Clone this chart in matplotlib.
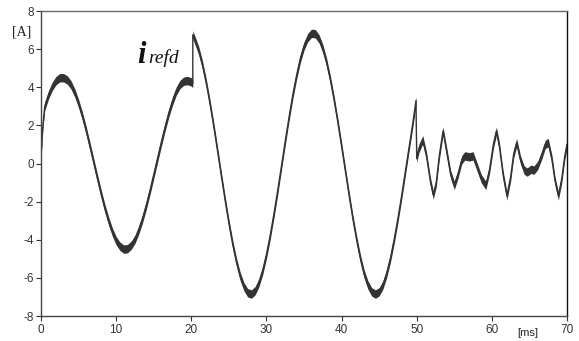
import numpy as np
import matplotlib
matplotlib.use("Agg")
import matplotlib.pyplot as plt

plt.rcParams['axes.unicode_minus'] = False

# corriente de referencia: antes del salto (0-20 ms)
t_antes = [0.0, 0.25, 0.5, 1.0, 1.5, 2.0, 2.5, 3.0, 3.5, 4.0, 4.5, 5.0, 5.5, 6.0,
           6.5, 7.0, 7.5, 8.0, 8.5, 9.0, 9.5, 10.0, 10.5, 11.0, 11.5, 12.0, 12.5,
           13.0, 13.5, 14.0, 14.5, 15.0, 15.5, 16.0, 16.5, 17.0, 17.5, 18.0, 18.5,
           19.0, 19.5, 20.0, 20.2]
i_antes = [0.4, 2.0, 3.0, 3.6, 4.05, 4.35, 4.5, 4.5, 4.38, 4.12, 3.70, 3.15, 2.50,
           1.75, 0.93, 0.08, -0.76, -1.58, -2.35, -3.02, -3.60, -4.05, -4.34, -4.49,
           -4.47, -4.29, -3.98, -3.50, -2.91, -2.21, -1.43, -0.60, 0.25, 1.09, 1.89,
           2.63, 3.27, 3.80, 4.15, 4.32, 4.35, 4.28, 4.2]

# despues del salto (20-50 ms)
t_despues = [20.2, 20.5, 21.0, 21.5, 22.0, 22.5, 23.0, 23.5, 24.0, 24.5, 25.0, 25.5,
             26.0, 26.5, 27.0, 27.5, 28.0, 28.5, 29.0, 29.5, 30.0, 30.5, 31.0, 31.5,
             32.0, 32.5, 33.0, 33.5, 34.0, 34.5, 35.0, 35.5, 36.0, 36.5, 37.0, 37.5,
             38.0, 38.5, 39.0, 39.5, 40.0, 40.5, 41.0, 41.5, 42.0, 42.5, 43.0, 43.5,
             44.0, 44.5, 45.0, 45.5, 46.0, 46.5, 47.0, 47.5, 48.0, 48.5, 49.0, 49.5,
             49.9]
i_despues = [6.75, 6.45, 5.91, 5.15, 4.21, 3.12, 1.92, 0.65, -0.65, -1.92, -3.12,
             -4.21, -5.15, -5.91, -6.46, -6.78, -6.85, -6.67, -6.25, -5.62, -4.78,
             -3.78, -2.64, -1.42, -0.13, 1.16, 2.41, 3.58, 4.60, 5.48, 6.16, 6.61,
             6.83, 6.81, 6.54, 6.03, 5.32, 4.41, 3.35, 2.17, 0.91, -0.39, -1.67, -2.89,
             -4.00, -4.98, -5.79, -6.37, -6.73, -6.85, -6.73, -6.37, -5.77, -4.97,
             -3.99, -2.88, -1.67, -0.39, 0.90, 2.17, 3.3]

# tramo final (50-70 ms)
t_final = [50.0, 50.3, 50.8, 51.3, 51.8, 52.2, 52.6, 53.0, 53.5, 54.0, 54.5, 55.0,
           55.5, 56.0, 56.4, 57.0, 57.5, 58.0, 58.6, 59.2, 59.7, 60.2, 60.6, 61.0,
           61.5, 62.0, 62.5, 62.9, 63.3, 63.8, 64.3, 64.7, 65.2, 65.6, 66.1, 66.6,
           67.1, 67.5, 68.0, 68.4, 68.85, 69.3, 69.7, 70.0]
i_final = [0.25, 0.8, 1.25, 0.4, -0.9, -1.65, -1.0, 0.4, 1.7, 0.6, -0.55, -1.15,
           -0.55, 0.2, 0.4, 0.35, 0.4, -0.15, -0.8, -1.15, -0.3, 1.0, 1.7, 0.9,
           -0.6, -1.7, -0.7, 0.5, 1.1, 0.2, -0.35, -0.45, -0.3, -0.35, -0.1, 0.4,
           1.0, 1.1, 0.2, -0.9, -1.7, -0.8, 0.4, 1.0]

x_ticks = [0, 10, 20, 30, 40, 50, 60, 70]
y_ticks = [-8, -6, -4, -2, 0, 2, 4, 6, 8]

t = np.array(t_antes + t_despues + t_final)
i = np.array(i_antes + i_despues + i_final)

rizado = 0.22  # ancho del rizado de conmutacion
color = '#333333'

fig = plt.figure(figsize=(5.79, 3.41), dpi=100)
ax = fig.add_axes([0.0708, 0.0733, 0.9085, 0.8944])

ax.fill_between(t, i - rizado, i + rizado, color=color, linewidth=0)
ax.plot(t, i, color=color, linewidth=1.0)

ax.set_xlim(0, 70)
ax.set_ylim(-8, 8)
ax.set_xticks(x_ticks)
ax.set_yticks(y_ticks)
ax.tick_params(direction='out', length=3.6, width=0.8, colors='#333333',
               labelsize=8.5, pad=1.5)
ax.tick_params(axis='x', pad=2.5)
for lbl in ax.get_xticklabels() + ax.get_yticklabels():
    lbl.set_fontfamily('Liberation Sans')

for lado in ['left', 'bottom']:
    ax.spines[lado].set_color('#444444')
ax.spines['top'].set_color('#666666')
ax.spines['right'].set_color('#111111')
for s in ax.spines.values():
    s.set_linewidth(1.0)

ax.text(12.8, 5.25, 'i', fontsize=22, fontweight='bold', fontstyle='italic',
        family='Liberation Serif', ha='left', va='baseline', color='#111111')
ax.text(14.25, 5.25, 'refd', fontsize=14, fontstyle='italic',
        family='Liberation Serif', ha='left', va='baseline', color='#111111')

fig.text(0.0375, 0.907, '[A]', fontsize=10, family='Liberation Serif',
         ha='center', va='center', color='#222222')
fig.text(0.912, 0.0235, '[ms]', fontsize=8, family='Liberation Sans',
         ha='center', va='center', color='#222222')

fig.savefig('out.png', dpi=100)
